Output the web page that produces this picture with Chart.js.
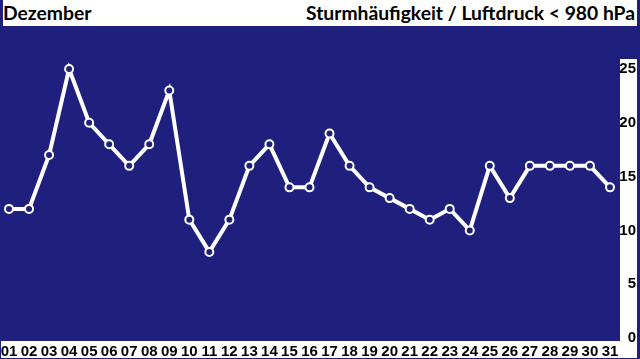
<!DOCTYPE html>
<html>
<head>
<meta charset="utf-8">
<script src="https://cdn.jsdelivr.net/npm/chart.js@4/dist/chart.umd.min.js"></script>
<style>
	body { margin: 0; background: rgb(31,31,126); width: 640px; height: 359px; overflow: hidden; position: relative; }
	.strip { position: absolute; background: #fff; }
	#header { left: 3px; top: 0; width: 634px; height: 26px; display: flex; justify-content: space-between; align-items: center;
		font-family: Lato, "Open Sans", sans-serif; font-weight: bold; font-size: 19.3px; color: #000; line-height: 26px; }
	#header span { padding: 0 2px 1px 0; }
	#yStrip { left: 620px; top: 59px; width: 17px; height: 283px; }
	#xStrip { left: 1px; top: 341px; width: 636px; height: 17px; }
	#wrap { position: absolute; left: 0; top: 0; width: 640px; height: 359px; }
	canvas { display: block; }
</style>
</head>
<body>
<div id="header" class="strip"><span>Dezember</span><span>Sturmhäufigkeit / Luftdruck &lt; 980 hPa</span></div>
<div id="yStrip" class="strip"></div>
<div id="xStrip" class="strip"></div>
<div id="wrap"><canvas id="ChartSturm"></canvas></div>
<script>
// --------------
// DATA
// --------------
const tage = ["01","02","03","04","05","06","07","08","09","10","11","12","13","14","15","16",
	"17","18","19","20","21","22","23","24","25","26","27","28","29","30","31"];
const sturmTage = [12, 12, 17, 25, 20, 18, 16, 18, 23, 11, 8, 11, 16, 18, 14, 14,
	19, 16, 14, 13, 12, 11, 12, 10, 16, 13, 16, 16, 16, 16, 14];
const yTicks = [0, 5, 10, 15, 20, 25];

const blau = "rgb(31,31,126)";
const tickFont = { family: "'Liberation Sans', Arial, sans-serif", size: 15, weight: "bold", lineHeight: 1 };

// CHART Sturmhaeufigkeit
const dataSturm = {
	labels: tage,
	datasets: [
		{
			label: "Sturmhäufigkeit",
			data: sturmTage,
			borderColor: "#fff",
			borderWidth: 4,
			backgroundColor: blau,
			pointBackgroundColor: blau,
			pointBorderColor: "#fff",
			pointBorderWidth: 2,
			pointRadius: 4,
			tension: 0,
			clip: false,
		},
	],
};

const configSturm = {
	type: "line",
	data: dataSturm,
	options: {
		responsive: false,
		animation: false,
		layout: { padding: { top: 69, left: 9, right: 4, bottom: 0 } },
		plugins: { legend: { display: false }, title: { display: false }, tooltip: { enabled: false } },
		scales: {
			x: {
				offset: false,
				grid: { display: false, drawTicks: false },
				border: { display: false },
				ticks: { color: "#000", font: tickFont, autoSkip: false, maxRotation: 0, padding: 6 },
				afterFit: (scale) => {
					scale.height = 21;
					scale.paddingLeft = 0;
					scale.paddingRight = 0;
				},
			},
			y: {
				position: "right",
				min: 0,
				max: 25,
				grid: { display: false, drawTicks: false },
				border: { display: false },
				afterBuildTicks: (scale) => { scale.ticks = yTicks.map((v) => ({ value: v })); },
				ticks: { color: "#000", font: tickFont, crossAlign: "far", padding: 2 },
				afterFit: (scale) => { scale.width = 26; },
			},
		},
	},
};

const canvas = document.getElementById("ChartSturm");
canvas.width = 640;
canvas.height = 359;
const ChartSturm = new Chart(canvas, configSturm);
</script>
</body>
</html>
